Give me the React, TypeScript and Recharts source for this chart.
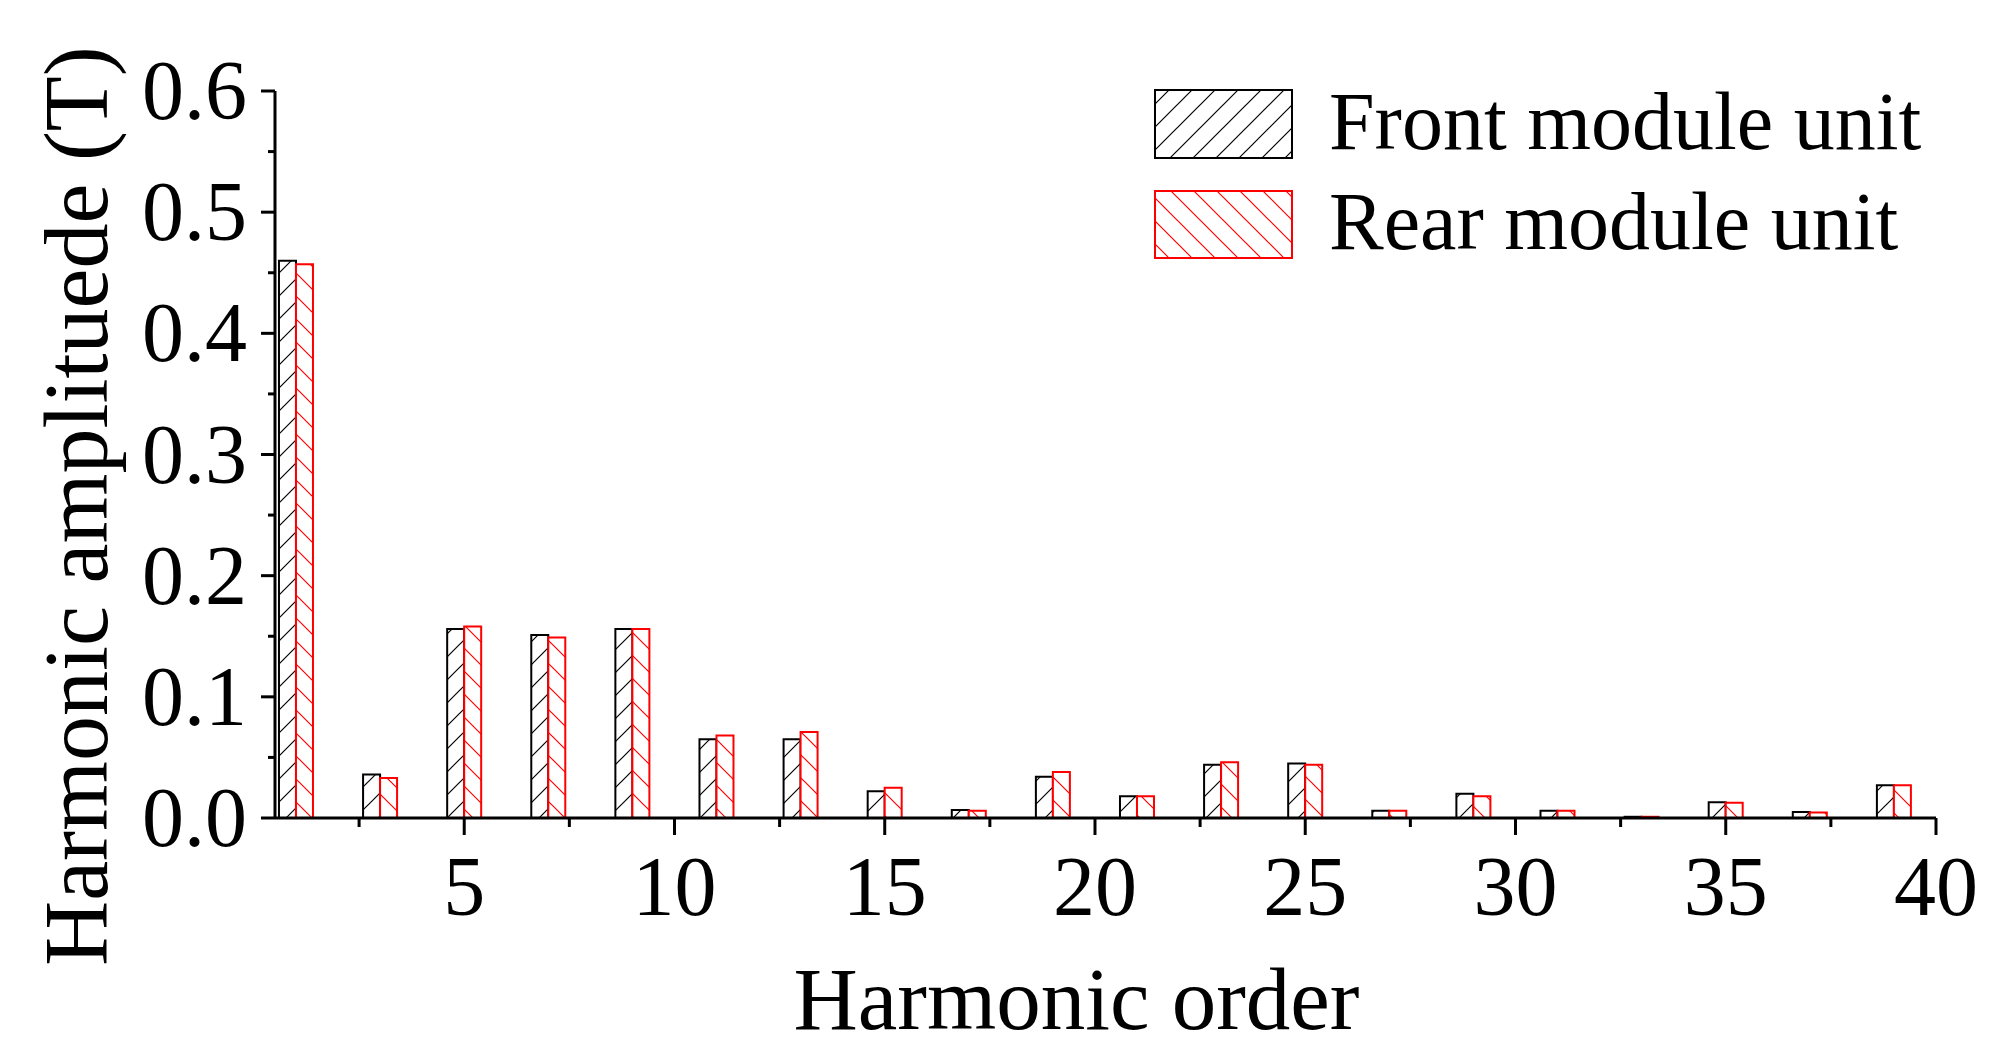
import React from "react";
import { BarChart, Bar, XAxis, YAxis, Legend, Label } from "recharts";

// Harmonic orders (odd only) and amplitudes in tesla
const orders = [1, 3, 5, 7, 9, 11, 13, 15, 17, 19, 21, 23, 25, 27, 29, 31, 33, 35, 37, 39];
const frontUnit = [0.46, 0.036, 0.156, 0.151, 0.156, 0.065, 0.065, 0.022, 0.0065, 0.034, 0.018, 0.044, 0.045, 0.006, 0.02, 0.006, 0.001, 0.013, 0.005, 0.027];
const rearUnit = [0.457, 0.033, 0.158, 0.149, 0.156, 0.068, 0.071, 0.025, 0.006, 0.038, 0.018, 0.046, 0.044, 0.006, 0.018, 0.006, 0.001, 0.0125, 0.0045, 0.027];

const xTicks = [2.5, 5, 7.5, 10, 12.5, 15, 17.5, 20, 22.5, 25, 27.5, 30, 32.5, 35, 37.5, 40];
const xMajor = [5, 10, 15, 20, 25, 30, 35, 40];
const yTicks = [0, 0.05, 0.1, 0.15, 0.2, 0.25, 0.3, 0.35, 0.4, 0.45, 0.5, 0.55, 0.6];
const yMajor = [0, 0.1, 0.2, 0.3, 0.4, 0.5, 0.6];
const seriesNames = ["Front module unit", "Rear module unit"];

const data = orders.map((order, i) => ({ order, front: frontUnit[i], rear: rearUnit[i] }));

const FONT = "'Liberation Serif', 'Times New Roman', serif";
const RED = "#ff0000";

const XTick = (props: any) => {
  const { x, y, payload } = props;
  const major = xMajor.includes(payload.value);
  return (
    <g>
      <line x1={x} x2={x} y1={y} y2={y + (major ? 17 : 9)} stroke="#000" strokeWidth={3} />
      {major && (
        <text x={x} y={y + 97} textAnchor="middle" fontSize={84} fontFamily={FONT} fill="#000">
          {payload.value}
        </text>
      )}
    </g>
  );
};

const YTick = (props: any) => {
  const { x, y, payload } = props;
  const major = yMajor.some((v) => Math.abs(v - payload.value) < 1e-9);
  return (
    <g>
      <line x1={x - (major ? 14 : 7)} x2={x} y1={y} y2={y} stroke="#000" strokeWidth={3} />
      {major && (
        <text x={x - 28} y={y + 28} textAnchor="end" fontSize={84} fontFamily={FONT} fill="#000">
          {payload.value.toFixed(1)}
        </text>
      )}
    </g>
  );
};

// legend drawn 30px lower inside its own svg so glyph ascenders are not clipped
const LegendBox = () => (
  <svg width={820} height={230} style={{ display: "block", overflow: "visible" }}>
    <rect x={1} y={31} width={137} height={68} fill="url(#hatchFront)" stroke="#000" strokeWidth={2} />
    <text x={175} y={90} fontSize={82} fontFamily={FONT} fill="#000">{seriesNames[0]}</text>
    <rect x={1} y={132} width={137} height={67} fill="url(#hatchRear)" stroke={RED} strokeWidth={2} />
    <text x={175} y={190} fontSize={82} fontFamily={FONT} fill="#000">{seriesNames[1]}</text>
  </svg>
);

export default function App() {
  return (
    <div style={{ position: "absolute", left: 0, top: 0, background: "#fff" }}>
      <BarChart
        width={2000}
        height={1050}
        data={data}
        margin={{ top: 91, right: 64, bottom: 0, left: 0 }}
        barGap={0}
        barSize={17}
      >
        <defs>
          <pattern id="hatchFront" patternUnits="userSpaceOnUse" width={23} height={23}>
            <rect width={23} height={23} fill="#fff" />
            <path d="M-2,2 l4,-4 M0,23 l23,-23 M21,25 l4,-4" stroke="#000" strokeWidth={1.2} />
          </pattern>
          <pattern id="hatchRear" patternUnits="userSpaceOnUse" width={23} height={23}>
            <rect width={23} height={23} fill="#fff" />
            <path d="M-2,21 l4,4 M0,0 l23,23 M21,-2 l4,4" stroke={RED} strokeWidth={1.2} />
          </pattern>
        </defs>
        <XAxis
          dataKey="order"
          type="number"
          domain={[0.5, 40]}
          ticks={xTicks}
          interval={0}
          height={232}
          tickSize={0}
          tickMargin={0}
          tickLine={false}
          axisLine={{ stroke: "#000", strokeWidth: 3 }}
          tick={<XTick />}
        >
          <Label
            content={(p: any) => {
              const vb = p.viewBox;
              return (
                <text x={vb.x + vb.width / 2 - 29} y={vb.y + 211} textAnchor="middle" fontSize={89} fontFamily={FONT} fill="#000">
                  Harmonic order
                </text>
              );
            }}
          />
        </XAxis>
        <YAxis
          type="number"
          domain={[0, 0.6]}
          ticks={yTicks}
          interval={0}
          width={275}
          tickSize={0}
          tickMargin={0}
          tickLine={false}
          axisLine={{ stroke: "#000", strokeWidth: 3 }}
          tick={<YTick />}
        >
          <Label
            content={(p: any) => {
              const vb = p.viewBox;
              const cx = vb.x + 107;
              const cy = 506;
              return (
                <text x={cx} y={cy} transform={`rotate(-90 ${cx} ${cy})`} textAnchor="middle" fontSize={90} fontFamily={FONT} fill="#000">
                  Harmonic amplituede (T)
                </text>
              );
            }}
          />
        </YAxis>
        <Legend
          layout="vertical"
          align="center"
          verticalAlign="middle"
          wrapperStyle={{ left: 1154, top: 59, width: 820, height: 230 }}
          content={() => <LegendBox />}
        />
        <Bar dataKey="front" name={seriesNames[0]} fill="url(#hatchFront)" stroke="#000" strokeWidth={2} isAnimationActive={false} />
        <Bar dataKey="rear" name={seriesNames[1]} fill="url(#hatchRear)" stroke={RED} strokeWidth={2} isAnimationActive={false} />
      </BarChart>
    </div>
  );
}
